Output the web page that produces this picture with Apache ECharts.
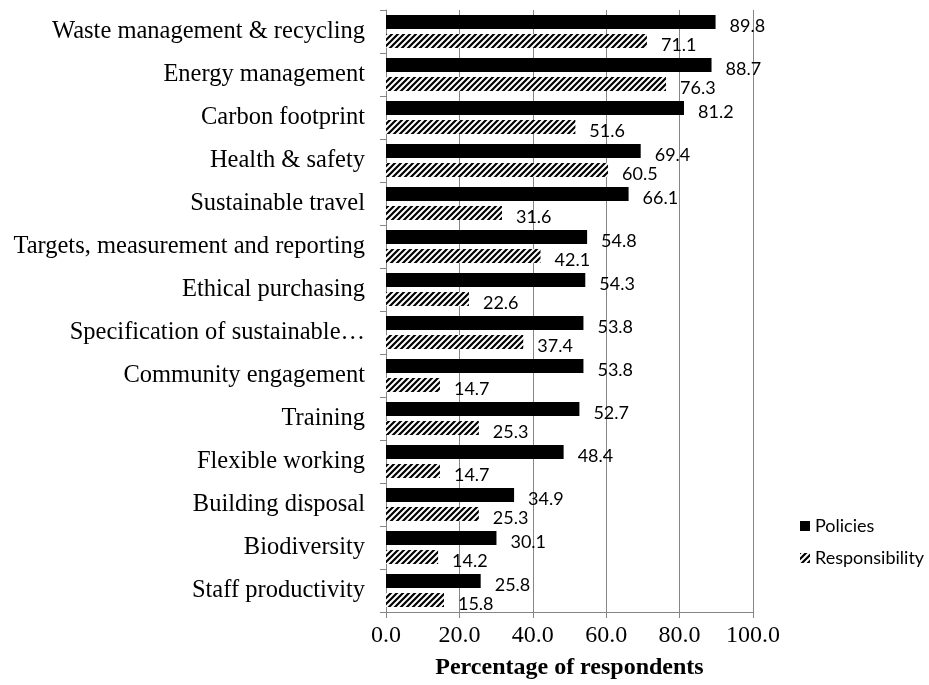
<!DOCTYPE html>
<html>
<head>
<meta charset="utf-8">
<script src="https://cdn.jsdelivr.net/npm/echarts@6/dist/echarts.min.js"></script>
<style>
  html, body { margin: 0; padding: 0; background: #fff; }
  #chart { width: 929px; height: 685px; }
</style>
</head>
<body>
<div id="chart"></div>
<script>
// 类目 (从上到下)
const categories = [
  'Waste management & recycling',
  'Energy management',
  'Carbon footprint',
  'Health & safety',
  'Sustainable travel',
  'Targets, measurement and reporting',
  'Ethical purchasing',
  'Specification of sustainable…',
  'Community engagement',
  'Training',
  'Flexible working',
  'Building disposal',
  'Biodiversity',
  'Staff productivity'
]
const policies = [89.8, 88.7, 81.2, 69.4, 66.1, 54.8, 54.3, 53.8, 53.8, 52.7, 48.4, 34.9, 30.1, 25.8]
const responsibility = [71.1, 76.3, 51.6, 60.5, 31.6, 42.1, 22.6, 37.4, 14.7, 25.3, 14.7, 25.3, 14.2, 15.8]
const xTicks = [0, 20, 40, 60, 80, 100]

// 斜线填充
function makeHatch () {
  const c = document.createElement('canvas')
  c.width = 6
  c.height = 6
  const ctx = c.getContext('2d')
  ctx.fillStyle = '#fff'
  ctx.fillRect(0, 0, 6, 6)
  ctx.strokeStyle = '#000'
  ctx.lineWidth = 2.2
  ctx.beginPath()
  ctx.moveTo(-1, 7); ctx.lineTo(7, -1)
  ctx.moveTo(-4, 4); ctx.lineTo(4, -4)
  ctx.moveTo(2, 10); ctx.lineTo(10, 2)
  ctx.stroke()
  return c
}
const hatch = { image: makeHatch(), repeat: 'repeat' }

const chart = echarts.init(document.getElementById('chart'))
const labelStyle = {
  show: true,
  position: 'right',
  distance: 14,
  offset: [0, 4],
  fontFamily: 'Lato',
  fontSize: 18,
  color: '#000',
  formatter: p => p.value.toFixed(1)
}
chart.setOption({
  animation: false,
  grid: { left: 386, right: 176, top: 10, bottom: 73 },
  legend: {
    orient: 'vertical',
    left: 795,
    top: 512,
    icon: 'rect',
    itemWidth: 10,
    itemHeight: 10,
    itemGap: 14,
    textStyle: { fontFamily: 'Lato', fontSize: 18, color: '#000' },
    data: ['Policies', 'Responsibility']
  },
  xAxis: {
    type: 'value',
    min: xTicks[0],
    max: xTicks[xTicks.length - 1],
    interval: 20,
    name: 'Percentage of respondents',
    nameLocation: 'middle',
    nameGap: 44,
    nameTextStyle: { fontFamily: 'Liberation Serif', fontSize: 24, fontWeight: 'bold', color: '#000' },
    axisLine: { show: true, lineStyle: { color: '#868686' } },
    axisTick: { show: true, length: 6, lineStyle: { color: '#868686' } },
    axisLabel: { margin: 12, fontFamily: 'Liberation Serif', fontSize: 24, color: '#000', formatter: v => v.toFixed(1) },
    splitLine: { show: true, lineStyle: { color: '#868686' } }
  },
  yAxis: {
    type: 'category',
    inverse: true,
    data: categories,
    axisLine: { show: true, lineStyle: { color: '#868686' } },
    axisTick: { show: true, length: 6, lineStyle: { color: '#868686' } },
    axisLabel: { margin: 21, fontFamily: 'Liberation Serif', fontSize: 24.5, color: '#000' }
  },
  series: [
    {
      name: 'Policies',
      type: 'bar',
      data: policies,
      barWidth: 14,
      barGap: '36%',
      itemStyle: { color: '#000' },
      label: labelStyle
    },
    {
      name: 'Responsibility',
      type: 'bar',
      data: responsibility,
      barWidth: 14,
      itemStyle: { color: hatch },
      label: labelStyle
    }
  ]
})
</script>
</body>
</html>
